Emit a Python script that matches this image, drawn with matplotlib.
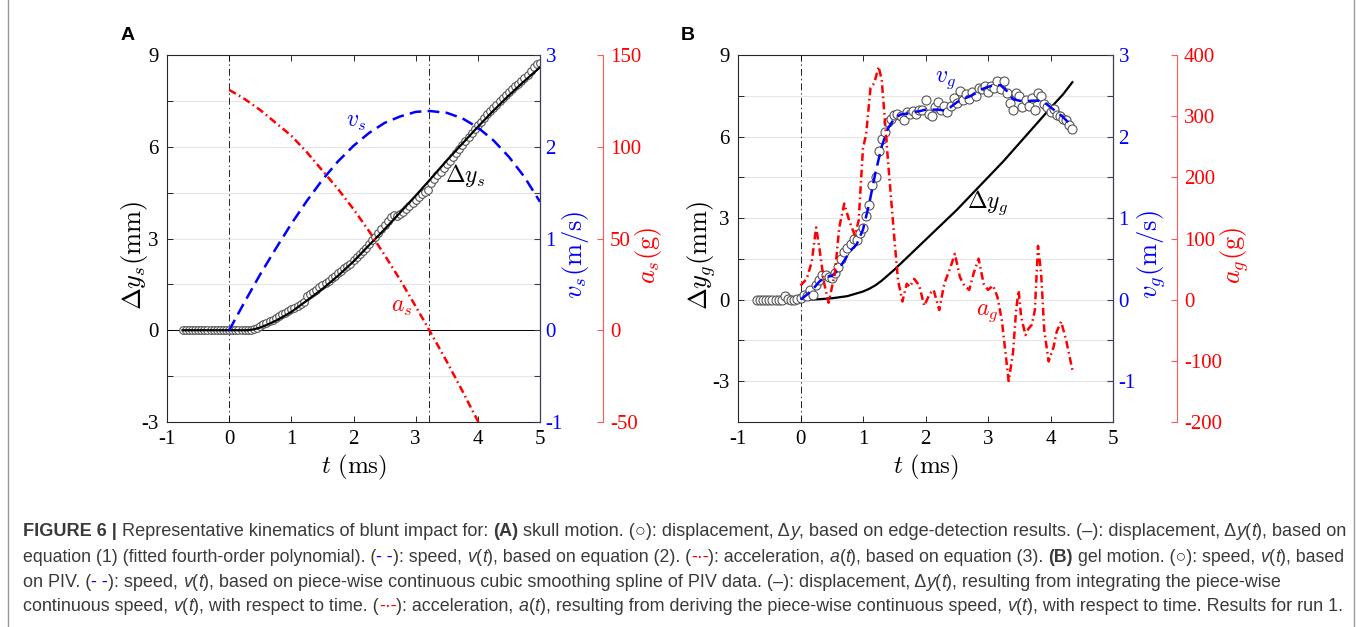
import numpy as np
import matplotlib
matplotlib.use('Agg')
import matplotlib.pyplot as plt
from matplotlib.lines import Line2D

plt.rcParams['font.family'] = ['Liberation Serif', 'DejaVu Serif']
plt.rcParams['mathtext.fontset'] = 'cm'
plt.rcParams['axes.unicode_minus'] = False
plt.rcParams['lines.scale_dashes'] = False

# ---------------- Panel A data (skull) ----------------
tA_obs_start, tA_obs_step = -0.75, 0.05
dy_s_obs = [0.0, 0.0, 0.0, 0.0, 0.0, 0.0, 0.0, 0.0, 0.0, 0.0, 0.0,
            0.0, 0.0, 0.0, 0.0, 0.0, 0.0, 0.0, 0.0, 0.0, 0.0, 0.0,
            0.01, 0.03, 0.07, 0.13, 0.19, 0.24, 0.29, 0.35, 0.41, 0.47,
            0.52, 0.58, 0.64, 0.68, 0.74, 0.80, 0.86, 0.92, 1.12, 1.18,
            1.24, 1.32, 1.40, 1.47, 1.55, 1.62, 1.70, 1.78, 1.86, 1.94,
            2.02, 2.10, 2.18, 2.30, 2.40, 2.50, 2.60, 2.70, 2.82, 2.94,
            3.06, 3.18, 3.32, 3.44, 3.58, 3.70, 3.76, 3.74, 3.80, 3.88,
            3.98, 4.06, 4.16, 4.26, 4.36, 4.46, 4.52, 4.60, 4.82, 4.94,
            5.06, 5.18, 5.30, 5.42, 5.52, 5.66, 5.80, 5.94, 6.06, 6.20,
            6.32, 6.46, 6.58, 6.70, 6.82, 6.94, 7.06, 7.16, 7.28, 7.38,
            7.48, 7.58, 7.68, 7.78, 7.88, 7.98, 8.06, 8.16, 8.26, 8.36,
            8.48, 8.60, 8.70, 8.74]

t_fit_A = [-0.75, 0.0, 0.3, 0.4, 0.5, 0.6, 0.75, 0.9, 1.0, 1.25, 1.5, 1.75,
           2.0, 2.25, 2.5, 2.75, 3.0, 3.25, 3.5, 3.75, 4.0, 4.25, 4.5, 4.75, 5.0]
dy_fit_A = [0.0, 0.0, 0.0, 0.03, 0.09, 0.17, 0.31, 0.48, 0.6, 0.97, 1.35, 1.78,
            2.25, 2.78, 3.3, 3.85, 4.4, 4.97, 5.55, 6.1, 6.65, 7.18, 7.68, 8.15, 8.6]

t_v_A = [0.0, 0.25, 0.5, 0.75, 1.0, 1.25, 1.5, 1.75, 2.0, 2.25, 2.5, 2.75,
         3.0, 3.22, 3.5, 3.75, 4.0, 4.25, 4.5, 4.75, 5.0]
v_s = [0.0, 0.31, 0.61, 0.89, 1.16, 1.41, 1.64, 1.84, 2.01, 2.15, 2.26, 2.33,
       2.38, 2.39, 2.37, 2.31, 2.21, 2.07, 1.89, 1.67, 1.40]

t_a_A = [0.0, 0.25, 0.5, 0.75, 1.0, 1.25, 1.5, 1.75, 2.0, 2.25, 2.5, 2.75,
         3.0, 3.22, 3.5, 3.75, 4.0, 4.1]
a_s = [131, 126, 120, 113, 106, 97, 87, 77, 66, 54, 41, 27.5, 13, 0, -17,
       -33, -49.5, -56]

t_peak_A = 3.22

# ---------------- Panel B data (gel) ----------------
tB_obs_start, tB_obs_step = -0.70, 0.05
v_g_obs = [0.0, 0.0, 0.0, 0.0, 0.0, 0.0, 0.0, 0.0, 0.0, 0.05, 0.01, 0.0, 0.0,
           0.01, 0.02, 0.06, 0.04, 0.12, 0.06, 0.18, 0.24, 0.30, 0.30, 0.28,
           0.27, 0.33, 0.40, 0.50, 0.58, 0.63, 0.68, 0.75, 0.73, 0.82, 0.88,
           1.03, 1.16, 1.40, 1.50, 1.82, 1.97, 2.06, 2.18, 2.21, 2.26, 2.28,
           2.25, 2.20, 2.30, 2.28, 2.31, 2.28, 2.33, 2.32, 2.45, 2.28, 2.25,
           2.36, 2.42, 2.32, 2.38, 2.30, 2.37, 2.47, 2.41, 2.56, 2.45, 2.52,
           2.46, 2.55, 2.50, 2.60, 2.58, 2.62, 2.55, 2.62, 2.60, 2.68, 2.58,
           2.68, 2.53, 2.41, 2.33, 2.53, 2.50, 2.36, 2.45, 2.38, 2.47, 2.33,
           2.54, 2.50, 2.40, 2.36, 2.30, 2.34, 2.27, 2.25, 2.22, 2.20, 2.14, 2.09]

t_v_B = [0, 0.1, 0.2, 0.3, 0.4, 0.5, 0.6, 0.7, 0.8, 0.9, 1.0, 1.1, 1.2, 1.3,
         1.4, 1.5, 1.6, 1.7, 1.8, 1.9, 2.0, 2.1, 2.2, 2.3, 2.4, 2.5, 2.6, 2.7,
         2.8, 2.9, 3.0, 3.1, 3.2, 3.3, 3.4, 3.5, 3.6, 3.7, 3.8, 3.9, 4.0, 4.1,
         4.2, 4.3, 4.35]
v_g = [0, 0.06, 0.13, 0.22, 0.28, 0.29, 0.36, 0.48, 0.60, 0.68, 0.86, 1.18,
       1.56, 1.88, 2.10, 2.22, 2.27, 2.28, 2.30, 2.31, 2.33, 2.33, 2.33, 2.32,
       2.36, 2.42, 2.46, 2.49, 2.53, 2.58, 2.61, 2.63, 2.63, 2.56, 2.46, 2.44,
       2.43, 2.44, 2.44, 2.42, 2.36, 2.30, 2.24, 2.16, 2.12]

t_dy_B = [0.0, 0.25, 0.5, 0.75, 1.0, 1.1, 1.2, 1.3, 1.4, 1.5, 1.75, 2.0, 2.25,
          2.5, 2.75, 3.0, 3.25, 3.5, 3.75, 4.0, 4.2, 4.35]
dy_g = [0.0, 0.01, 0.05, 0.13, 0.3, 0.4, 0.53, 0.7, 0.9, 1.1, 1.65, 2.2, 2.75,
        3.3, 3.9, 4.5, 5.1, 5.75, 6.4, 7.05, 7.55, 8.0]

t_a_B = [0.0, 0.1, 0.18, 0.25, 0.3, 0.38, 0.45, 0.55, 0.62, 0.7, 0.78, 0.87,
         0.93, 1.0, 1.05, 1.12, 1.18, 1.25, 1.3, 1.4, 1.5, 1.56, 1.63, 1.7,
         1.75, 1.82, 1.9, 1.98, 2.07, 2.13, 2.22, 2.3, 2.4, 2.47, 2.55, 2.62,
         2.7, 2.77, 2.85, 2.93, 3.0, 3.08, 3.15, 3.22, 3.28, 3.33, 3.4, 3.45,
         3.49, 3.53, 3.6, 3.65, 3.7, 3.75, 3.8, 3.85, 3.9, 3.97, 4.05, 4.1,
         4.17, 4.25, 4.35]
a_g = [23, 34, 62, 118, 86, 26, -5, 43, 118, 157, 129, 105, 129, 248, 270,
       346, 354, 381, 359, 227, 102, 32, -3, 26, 21, 34, 23, -10, 10, 16, -17,
       26, 53, 75, 37, 23, 16, 43, 67, 26, 16, 23, 5, -33, -87, -133, -87,
       -17, 15, -28, -58, -47, -41, -17, 88, 43, -50, -101, -77, -52, -36,
       -66, -115]

# ---------------- figure ----------------
W, H = 1357, 627
fig = plt.figure(figsize=(W / 100, H / 100), dpi=100)


def fx(px):
    return px / W


def fy(py):
    return 1 - py / H


BLUE = '#0000ff'
RED = '#ff0000'
SPINE = '#262626'
BSPINE = '#3d3d58'
RSPINE = '#ff5a5a'
GRID = '#e6e6e6'
TICK_FS = 15
LAB_FS = 19
ANN_FS = 17

BLUE_DASH = (0, (8.5, 4.5))
RED_DASHDOT = (0, (5.5, 2.6, 1.2, 2.6))
BLACK_DASHDOT = (0, (5, 2.2, 1, 2.2))


def make_panel(left_px, right_px, ylim_left, ylim_blue, ylim_red, red_ticks,
               red_off):
    ax = fig.add_axes([fx(left_px), fy(422), fx(right_px) - fx(left_px),
                       fy(55) - fy(422)])
    ax.set_xlim(-1, 5)
    ax.set_ylim(*ylim_left)
    ax.set_xticks(range(-1, 6))
    ax.set_yticks([-3, 0, 3, 6, 9])
    ax.set_yticks(np.arange(ylim_left[0], 9.01, 1.5), minor=True)
    ax.grid(True, which='both', axis='y', color=GRID, lw=0.8, zorder=0)
    ax.set_axisbelow(True)
    for s in ['left', 'bottom', 'top']:
        ax.spines[s].set_color(SPINE)
        ax.spines[s].set_linewidth(0.8)
    ax.spines['right'].set_visible(False)
    ax.tick_params(axis='x', which='both', direction='in', top=True,
                   length=4, width=0.7, color=SPINE, labelsize=TICK_FS, pad=6)
    ax.tick_params(axis='y', which='both', direction='in', length=4,
                   width=0.7, color=SPINE, labelsize=TICK_FS, pad=6)

    axb = ax.twinx()
    axb.set_ylim(*ylim_blue)
    axb.set_yticks(range(int(np.ceil(ylim_blue[0])), 4))
    axb.set_yticks(np.arange(ylim_blue[0], 3.01, 0.5), minor=True)
    for s in ['left', 'bottom', 'top']:
        axb.spines[s].set_visible(False)
    axb.spines['right'].set_color(BSPINE)
    axb.spines['right'].set_linewidth(0.9)
    axb.tick_params(axis='y', which='both', direction='in', length=4.5,
                    width=0.8, color=BSPINE, labelsize=TICK_FS,
                    labelcolor=BLUE, pad=4)

    axr = ax.twinx()
    axr.set_ylim(*ylim_red)
    axr.set_yticks(red_ticks)
    for s in ['left', 'bottom', 'top']:
        axr.spines[s].set_visible(False)
    axr.spines['right'].set_position(('axes', red_off))
    axr.spines['right'].set_color(RSPINE)
    axr.spines['right'].set_linewidth(0.8)
    axr.tick_params(axis='y', which='both', direction='in', length=4.5,
                    width=0.8, color=RSPINE, labelsize=TICK_FS,
                    labelcolor=RED, pad=5)
    return ax, axb, axr


def set_labels(ax, axb, axr, lab_l, lab_b, lab_r, xl, xb, xr):
    ax.set_xlabel(r'$t\ (\mathrm{ms})$', fontsize=18)
    ax.xaxis.set_label_coords(0.5, -0.125)
    ax.xaxis.label.set(va='center', ha='center')
    ax.set_ylabel(lab_l, fontsize=LAB_FS)
    ax.yaxis.set_label_coords(xl, 0.455)
    ax.yaxis.label.set(va='center', ha='center')
    axb.set_ylabel(lab_b, fontsize=LAB_FS, color=BLUE)
    axb.yaxis.set_label_coords(xb, 0.455)
    axb.yaxis.label.set(va='center', ha='center', rotation=90)
    axr.set_ylabel(lab_r, fontsize=LAB_FS, color=RED)
    axr.yaxis.set_label_coords(xr, 0.455)
    axr.yaxis.label.set(va='center', ha='center', rotation=90)


# ---- Panel A ----
axA, axAb, axAr = make_panel(167, 540, (-3, 9), (-1, 3), (-50, 150),
                             [-50, 0, 50, 100, 150], 1.169)
tA_obs = tA_obs_start + tA_obs_step * np.arange(len(dy_s_obs))
axA.axhline(0, color='k', lw=0.7, zorder=1)
axA.axvline(0, color='k', lw=0.6, ls=BLACK_DASHDOT, zorder=1)
axA.axvline(t_peak_A, color='k', lw=0.6, ls=BLACK_DASHDOT, zorder=1)
axA.plot(tA_obs, dy_s_obs, 'o', mfc='white', mec='#555555', ms=5.5,
         mew=0.8, zorder=2)
axA.plot(t_fit_A, dy_fit_A, color='k', lw=1.6, zorder=3)
axAb.plot(t_v_A, v_s, color=BLUE, lw=1.8, ls=BLUE_DASH)
axAr.plot(t_a_A, a_s, color=RED, lw=1.8, ls=RED_DASHDOT)
axA.text(2.05, 6.78, r'$v_s$', color=BLUE, fontsize=ANN_FS, ha='center',
         va='center', zorder=5)
axA.text(3.8, 5.07, r'$\Delta y_s$', color='k', fontsize=ANN_FS,
         ha='center', va='center', zorder=5)
axA.text(2.77, 0.74, r'$a_s$', color=RED, fontsize=ANN_FS, ha='center',
         va='center', zorder=5)
set_labels(axA, axAb, axAr, r'$\Delta y_s(\mathrm{mm})$',
           r'$v_s(\mathrm{m/s})$', r'$a_s(\mathrm{g})$',
           -0.088, 1.096, 1.29)

# ---- Panel B ----
axB, axBb, axBr = make_panel(738, 1113, (-4.5, 9), (-1.5, 3), (-200, 400),
                             [-200, -100, 0, 100, 200, 300, 400], 1.171)
tB_obs = tB_obs_start + tB_obs_step * np.arange(len(v_g_obs))
axB.axvline(0, color='k', lw=0.6, ls=BLACK_DASHDOT, zorder=1)
axB.plot(t_dy_B, dy_g, color='k', lw=1.6, zorder=3)
axBb.plot(tB_obs, v_g_obs, 'o', mfc='white', mec='#555555', ms=6.5,
          mew=0.8, zorder=2)
axBb.plot(t_v_B, v_g, color=BLUE, lw=1.8, ls=BLUE_DASH, zorder=3)
axBr.plot(t_a_B, a_g, color=RED, lw=1.8, ls=RED_DASHDOT)
axB.text(2.32, 8.08, r'$v_g$', color=BLUE, fontsize=ANN_FS, ha='center',
         va='center', zorder=5)
axB.text(3.0, 3.58, r'$\Delta y_g$', color='k', fontsize=ANN_FS,
         ha='center', va='center', zorder=5)
axB.text(2.99, -0.5, r'$a_g$', color=RED, fontsize=ANN_FS, ha='center',
         va='center', zorder=5)
set_labels(axB, axBb, axBr, r'$\Delta y_g(\mathrm{mm})$',
           r'$v_g(\mathrm{m/s})$', r'$a_g(\mathrm{g})$',
           -0.097, 1.104, 1.325)

# panel letters
fig.text(fx(128), fy(35), 'A', family=['Liberation Sans', 'DejaVu Sans'],
         weight='bold', fontsize=14, ha='center', va='center')
fig.text(fx(688), fy(35), 'B', family=['Liberation Sans', 'DejaVu Sans'],
         weight='bold', fontsize=14, ha='center', va='center')

# ---------------- caption ----------------
CAP_FONT = ['Liberation Sans', 'DejaVu Sans']
CAP_COL = '#3a3a3a'
N, B_, I_ = ('normal', 'normal'), ('bold', 'normal'), ('normal', 'italic')

caption_lines = [
    [("FIGURE 6 | ", B_, None), ("Representative kinematics of blunt impact for: ", N, None),
     ("(A)", B_, None), (" skull motion. (\u25cb): displacement, \u0394", N, None), ("y", I_, None),
     (", based on edge-detection results. (\u2013): displacement, \u0394", N, None), ("y", I_, None),
     ("(", N, None), ("t", I_, None), ("), based on", N, None)],
    [("equation (1) (fitted fourth-order polynomial). (", N, None), ("- -", N, BLUE),
     ("): speed, ", N, None), ("v", I_, None), ("(", N, None), ("t", I_, None),
     ("), based on equation (2). (", N, None), ("-\u00b7-", N, RED),
     ("): acceleration, ", N, None), ("a", I_, None), ("(", N, None), ("t", I_, None),
     ("), based on equation (3). ", N, None), ("(B)", B_, None),
     (" gel motion. (\u25cb): speed, ", N, None), ("v", I_, None), ("(", N, None),
     ("t", I_, None), ("), based", N, None)],
    [("on PIV. (", N, None), ("- -", N, BLUE), ("): speed, ", N, None), ("v", I_, None),
     ("(", N, None), ("t", I_, None),
     ("), based on piece-wise continuous cubic smoothing spline of PIV data. (\u2013): displacement, \u0394", N, None),
     ("y", I_, None), ("(", N, None), ("t", I_, None),
     ("), resulting from integrating the piece-wise", N, None)],
    [("continuous speed, ", N, None), ("v", I_, None), ("(", N, None), ("t", I_, None),
     ("), with respect to time. (", N, None), ("-\u00b7-", N, RED),
     ("): acceleration, ", N, None), ("a", I_, None), ("(", N, None), ("t", I_, None),
     ("), resulting from deriving the piece-wise continuous speed, ", N, None),
     ("v", I_, None), ("(", N, None), ("t", I_, None),
     ("), with respect to time. Results for run 1.", N, None)],
]
caption_baselines = [536, 562, 587, 611]
caption_right_px = [1342, 1342, 1277, 1337]
CAP_X0 = 23

renderer = fig.canvas.get_renderer()


def text_w(s, size, wt, st):
    t = fig.text(0, 0, s, fontsize=size, weight=wt, style=st, family=CAP_FONT)
    w = t.get_window_extent(renderer).width
    t.remove()
    return w


def layout_runs(runs, x0, ybase, size, draw=True):
    x = x0
    objs = []
    for s, (wt, st), col in runs:
        sp = text_w('a a', size, wt, st) - text_w('aa', size, wt, st)
        lead = len(s) - len(s.lstrip(' '))
        trail = len(s) - len(s.rstrip(' '))
        core = s.strip(' ')
        x += lead * sp
        t = fig.text(fx(x), fy(ybase), core, fontsize=size, weight=wt, style=st,
                     family=CAP_FONT, color=col if col else CAP_COL,
                     ha='left', va='baseline')
        w = t.get_window_extent(renderer).width
        objs.append(t)
        x += w + trail * sp
    if not draw:
        for t in objs:
            t.remove()
    return x - x0


s0 = 11.0
for runs, yb, xr in zip(caption_lines, caption_baselines, caption_right_px):
    w0 = layout_runs(runs, CAP_X0, yb, s0, draw=False)
    size = s0 * (xr - CAP_X0) / w0
    layout_runs(runs, CAP_X0, yb, size)

# frame lines of the figure box
for xp in (8, 1354):
    fig.add_artist(Line2D([fx(xp), fx(xp)], [0, 1], color='#9a9a9a', lw=1.0))

fig.savefig('out.png', dpi=100)
